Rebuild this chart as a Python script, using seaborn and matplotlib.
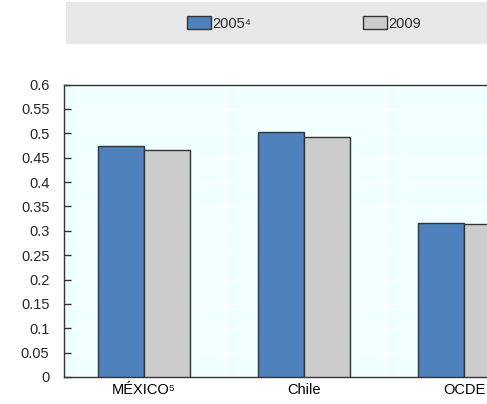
import matplotlib
matplotlib.use("Agg")
import matplotlib.pyplot as plt
from matplotlib.patches import Rectangle
import seaborn as sns
import pandas as pd

categories = ["MÉXICO⁵", "Chile", "OCDE"]
series_names = ["2005⁴", "2009"]
values_2005 = [0.474, 0.503, 0.316]
values_2009 = [0.466, 0.492, 0.313]
yticks = [0, 0.05, 0.1, 0.15, 0.2, 0.25, 0.3, 0.35, 0.4, 0.45, 0.5, 0.55, 0.6]
ytick_labels = ["0", "0.05", "0.1", "0.15", "0.2", "0.25", "0.3", "0.35", "0.4", "0.45", "0.5", "0.55", "0.6"]

df = pd.DataFrame({
    "cat": categories * 2,
    "series": [series_names[0]] * 3 + [series_names[1]] * 3,
    "value": values_2005 + values_2009,
})

sns.set_style("white")
plt.rcParams['font.family'] = ['Liberation Sans', 'DejaVu Sans']

W, H = 487, 404
FS = 10.5
fig = plt.figure(figsize=(W / 100, H / 100), dpi=100)
ax = fig.add_axes([64 / W, (H - 377) / H, 480 / W, 292.5 / H])
ax.set_facecolor("#F0FFFF")

sns.barplot(data=df, x="cat", y="value", hue="series", ax=ax,
            palette=["#4F81BD", "#CCCCCC"], width=0.575, gap=0,
            edgecolor="#333333", linewidth=1.0, saturation=1, zorder=3)

ax.set_xlim(-0.5, 2.5)
ax.set_ylim(0, 0.6)
ax.set_yticks(yticks)
ax.set_yticklabels(ytick_labels)
ax.set_xlabel("")
ax.set_ylabel("")
ax.set_xticks([0.5, 1.5], minor=True)
ax.tick_params(axis="x", which="major", length=0, labelsize=FS, pad=4, colors="#000000")
ax.tick_params(axis="x", which="minor", direction="in", length=4, color="#333333", width=1)
ax.tick_params(axis="y", direction="in", length=5, color="#333333", width=1,
               labelsize=FS, pad=10.5, left=True)
ax.grid(True, axis="y", color="white", linewidth=0.8, zorder=0)
ax.grid(True, axis="x", which="minor", color="white", linewidth=0.8, zorder=0)
ax.set_axisbelow(True)
for side in ["left", "bottom", "top", "right"]:
    ax.spines[side].set_color("#333333")
    ax.spines[side].set_linewidth(1.0)

handles, labels = ax.get_legend_handles_labels()
ax.get_legend().remove()

fig.patches.append(Rectangle((66 / W, (H - 44) / H), (W - 66) / W + 0.1, 42 / H,
                             transform=fig.transFigure, facecolor="#E8E8E8",
                             edgecolor="none", zorder=0))
leg = fig.legend(handles, labels, ncol=2, loc="center left",
                 bbox_to_anchor=(187 / W, (H - 23.5) / H), frameon=False,
                 fontsize=FS, handlelength=1.65, handleheight=0.9,
                 handletextpad=0.05, columnspacing=7.7, borderpad=0,
                 borderaxespad=0)

fig.savefig("out.png", dpi=100)
